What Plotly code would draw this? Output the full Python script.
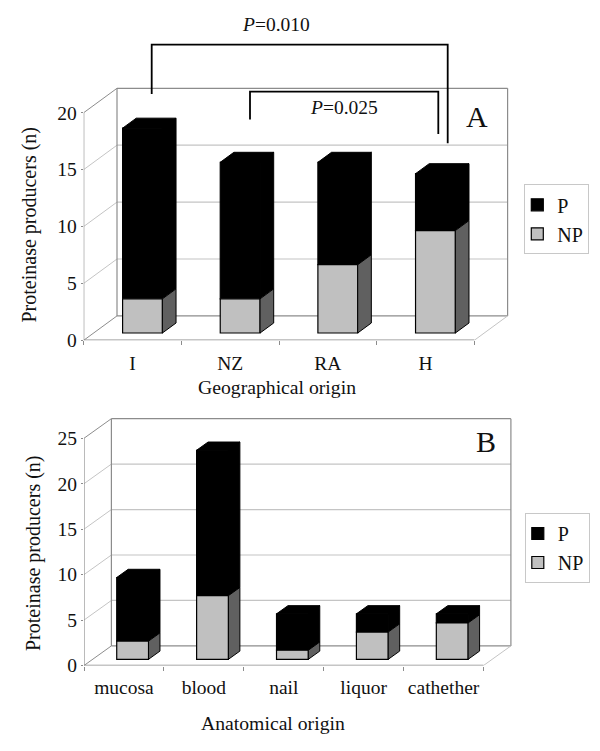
import plotly.graph_objects as go

W, H = 600, 751
SERIF = "Liberation Serif"

# ---- data ----
geo_categories = ["I", "NZ", "RA", "H"]
geo_np = [3, 3, 6, 9]
geo_p = [15, 12, 9, 5]
geo_ticks = [0, 5, 10, 15, 20]

ana_categories = ["mucosa", "blood", "nail", "liquor", "cathether"]
ana_np = [2, 7, 1, 3, 4]
ana_p = [7, 16, 4, 2, 1]
ana_ticks = [0, 5, 10, 15, 20, 25]

# ---- panel geometry (pixels) ----
panel_a = dict(suffix="", legend="legend", cats=geo_categories, np=geo_np, p=geo_p, ticks=geo_ticks,
               x0=83.7, y0=340.3, cat_px=97.65, unit_px=11.38, wall_dx=33.3, wall_dy=24.4,
               bar_px=39.8, base_dy=7.3, depth_dy=10, right=520, top=30,
               xtitle="Geographical origin", xt_x=277, xt_y=387, xl_y=362, yt_x=28.5, yt_y=225,
               leg=(524.3, 184.3))
panel_b = dict(suffix="2", legend="legend2", cats=ana_categories, np=ana_np, p=ana_p, ticks=ana_ticks,
               x0=84, y0=665.5, cat_px=79.9, unit_px=9.09, wall_dx=27.4, wall_dy=19.6,
               bar_px=31.8, base_dy=6.2, depth_dy=8.2, right=520, top=410,
               xtitle="Anatomical origin", xt_x=273.4, xt_y=723, xl_y=687, yt_x=33, yt_y=553,
               leg=(524.8, 513))

NP_COLOR = "#c0c0c0"
SIDE_COLOR = "#606060"
WALL_COLOR = "#8c8c8c"
GRID_COLOR = "#c4c4c4"

fig = go.Figure()
shapes, annotations = [], []


def px(x):
    return x / W


def py(y):
    return 1 - y / H


def draw_panel(p):
    sx, sy = "x" + p["suffix"], "y" + p["suffix"]
    n = len(p["cats"])
    top_val = max(p["ticks"])
    dx_wall = p["wall_dx"] / p["cat_px"]
    dy_wall = p["wall_dy"] / p["unit_px"]
    x_base = p["base_dy"] / p["wall_dy"] * dx_wall
    y_base = p["base_dy"] / p["unit_px"]
    dy_bar = p["depth_dy"] / p["unit_px"]
    dx_bar = p["depth_dy"] / p["wall_dy"] * dx_wall
    bw = p["bar_px"] / p["cat_px"]

    def line(x1, y1, x2, y2, color, width=1.2):
        shapes.append(dict(type="line", xref=sx, yref=sy, x0=x1, y0=y1, x1=x2, y1=y2,
                           line=dict(color=color, width=width), layer="below"))

    for t in p["ticks"]:
        if 0 < t < top_val:
            line(dx_wall, t + dy_wall, n + dx_wall, t + dy_wall, GRID_COLOR)
        line(0, t, dx_wall, t + dy_wall, WALL_COLOR if t in (0, top_val) else GRID_COLOR, 1)
    line(dx_wall, dy_wall, n + dx_wall, dy_wall, WALL_COLOR, 1.4)
    line(dx_wall, top_val + dy_wall, n + dx_wall, top_val + dy_wall, WALL_COLOR)
    line(dx_wall, dy_wall, dx_wall, top_val + dy_wall, WALL_COLOR)
    line(n + dx_wall, dy_wall, n + dx_wall, top_val + dy_wall, WALL_COLOR)
    line(n, 0, n + dx_wall, dy_wall, GRID_COLOR, 1)
    line(0, 0, 0, top_val, WALL_COLOR)
    line(0, 0, n, 0, WALL_COLOR, 1.4)

    centers = [i + 0.5 + x_base for i in range(n)]
    totals = [a + b for a, b in zip(p["np"], p["p"])]

    fig.add_trace(go.Bar(x=centers, y=p["p"], base=[y_base + v for v in p["np"]], width=bw,
                         name="P", marker=dict(color="black", line=dict(color="black", width=1.2)),
                         xaxis=sx, yaxis=sy, legend=p["legend"], hoverinfo="skip"))
    fig.add_trace(go.Bar(x=centers, y=p["np"], base=y_base, width=bw,
                         name="NP", marker=dict(color=NP_COLOR, line=dict(color="black", width=1.2)),
                         xaxis=sx, yaxis=sy, legend=p["legend"], hoverinfo="skip"))

    side_np_x, side_np_y, dark_x, dark_y = [], [], [], []
    for c, a, t in zip(centers, p["np"], totals):
        r = c + bw / 2
        l = c - bw / 2
        side_np_x += [r, r + dx_bar, r + dx_bar, r, r, None]
        side_np_y += [y_base, y_base + dy_bar, y_base + a + dy_bar, y_base + a, y_base, None]
        dark_x += [r, r + dx_bar, r + dx_bar, r, r, None]
        dark_y += [y_base + a, y_base + a + dy_bar, y_base + t + dy_bar, y_base + t, y_base + a, None]
        dark_x += [l, l + dx_bar, r + dx_bar, r, l, None]
        dark_y += [y_base + t, y_base + t + dy_bar, y_base + t + dy_bar, y_base + t, y_base + t, None]
    fig.add_trace(go.Scatter(x=dark_x, y=dark_y, mode="lines", fill="toself", fillcolor="black",
                             line=dict(color="black", width=1), showlegend=False, hoverinfo="skip",
                             xaxis=sx, yaxis=sy))
    fig.add_trace(go.Scatter(x=side_np_x, y=side_np_y, mode="lines", fill="toself", fillcolor=SIDE_COLOR,
                             line=dict(color="black", width=1), showlegend=False, hoverinfo="skip",
                             xaxis=sx, yaxis=sy))

    font = dict(family=SERIF, size=19.5, color="#111")
    xa = dict(domain=[px(p["x0"]), px(p["right"])],
              range=[0, (p["right"] - p["x0"]) / p["cat_px"]],
              tickmode="array", tickvals=[i + 0.5 for i in range(n)], ticktext=p["cats"],
              ticks="", showgrid=False, zeroline=False, showline=False, automargin=False,
              tickfont=font, anchor=sy, ticklabelstandoff=round(p["xl_y"] - p["y0"] - 13),
              minor=dict(tickmode="array", tickvals=list(range(n + 1)), ticks="outside",
                         ticklen=4, tickcolor=WALL_COLOR, showgrid=False))
    ya = dict(domain=[py(p["y0"]), py(p["top"])],
              range=[0, (p["y0"] - p["top"]) / p["unit_px"]], automargin=False,
              tickmode="array", tickvals=p["ticks"], ticks="outside", ticklen=2, tickcolor=WALL_COLOR,
              showgrid=False, zeroline=False, showline=False, tickfont=font, anchor=sx)
    key = p["suffix"]
    fig.update_layout(**{"xaxis" + key: xa, "yaxis" + key: ya})

    annotations.append(dict(text=p["xtitle"], x=px(p["xt_x"]), y=py(p["xt_y"]),
                            xref="paper", yref="paper", showarrow=False, xanchor="center", yanchor="middle",
                            font=dict(family=SERIF, size=19.7, color="#111")))
    annotations.append(dict(text="Proteinase producers (n)", x=px(p["yt_x"]), y=py(p["yt_y"]),
                            xref="paper", yref="paper", showarrow=False, textangle=-90,
                            xanchor="center", yanchor="middle",
                            font=dict(family=SERIF, size=20, color="#111")))
    legend = dict(x=px(p["leg"][0]), y=py(p["leg"][1]), xanchor="left", yanchor="top",
                  bgcolor="white", bordercolor="#c8c8c8", borderwidth=1, indentation=-8,
                  font=dict(family=SERIF, size=20, color="#111"), traceorder="normal",
                  itemclick=False, itemdoubleclick=False)
    fig.update_layout(**{p["legend"]: legend})


draw_panel(panel_a)
draw_panel(panel_b)


def label(text, x, y, size):
    annotations.append(dict(text=text, x=px(x), y=py(y), xref="paper", yref="paper", showarrow=False,
                            xanchor="center", yanchor="middle",
                            font=dict(family=SERIF, size=size, color="#111")))


def bracket(xl, yl, ytop, xr, yr):
    d = f"M{px(xl)},{py(yl)} L{px(xl)},{py(ytop)} L{px(xr)},{py(ytop)} L{px(xr)},{py(yr)}"
    shapes.append(dict(type="path", xref="paper", yref="paper", path=d,
                       line=dict(color="black", width=1.8), layer="above"))


label("<i>P</i>=0.010", 275.5, 25, 19.5)
label("<i>P</i>=0.025", 344, 108, 19.5)
label("A", 476.5, 116, 30)
label("B", 486, 441, 30)
bracket(151.7, 94, 44.7, 447.7, 143.3)
bracket(250, 119.5, 91.7, 438.3, 134)

fig.update_layout(width=W, height=H, autosize=False, margin=dict(l=0, r=0, t=0, b=0),
                  paper_bgcolor="white", plot_bgcolor="rgba(0,0,0,0)", barmode="overlay",
                  shapes=shapes, annotations=annotations, showlegend=True,
                  font=dict(family=SERIF))
fig.write_html("out.html", config=dict(displayModeBar=False),
               post_script="document.body.style.margin='0';")
